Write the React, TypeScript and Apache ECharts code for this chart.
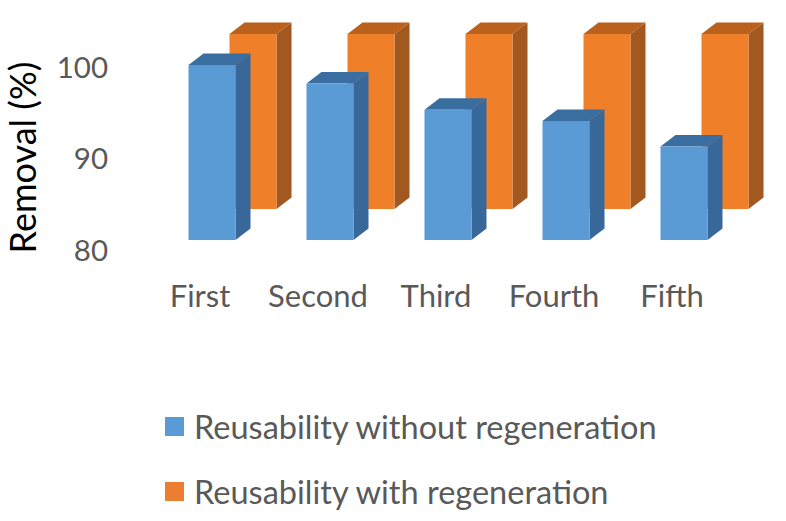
import React, { useEffect, useRef } from "react";
import * as echarts from "echarts";

const categories = ["First", "Second", "Third", "Fourth", "Fifth"];
const withoutRegeneration = [100, 97.9, 94.9, 93.6, 90.7];
const withRegeneration = [100, 100, 100, 100, 100];
const seriesNames = ["Reusability without regeneration", "Reusability with regeneration"];
const yMin = 80;
const yMax = 100;
const yStep = 10;

const FONT = "Lato, 'Open Sans', sans-serif";

function bar3d(front: string, side: string, top: string, shiftX: number, shiftY: number) {
  return (params: any, api: any) => {
    const idx = api.value(0);
    const val = api.value(1);
    const base = api.coord([idx, yMin]);
    const head = api.coord([idx, val]);
    const w = 47;
    const dx = 15;
    const dy = 11.5;
    const x0 = base[0] - w / 2 + shiftX;
    const x1 = x0 + w;
    const yb = base[1] + shiftY;
    const yt = head[1] + shiftY;
    return {
      type: "group",
      children: [
        {
          type: "polygon",
          shape: { points: [[x1, yb], [x1 + dx, yb - dy], [x1 + dx, yt - dy], [x1, yt]] },
          style: { fill: side },
        },
        {
          type: "polygon",
          shape: { points: [[x0, yt], [x1, yt], [x1 + dx, yt - dy], [x0 + dx, yt - dy]] },
          style: { fill: top },
        },
        {
          type: "rect",
          shape: { x: x0, y: yt, width: w, height: yb - yt },
          style: { fill: front },
        },
      ],
    };
  };
}

export default function App() {
  const ref = useRef<HTMLDivElement>(null);
  useEffect(() => {
    const chart = echarts.init(ref.current!, null, { renderer: "svg" });
    chart.setOption({
      animation: false,
      backgroundColor: "#ffffff",
      legend: {
        orient: "vertical",
        left: 160,
        top: 405,
        itemWidth: 19,
        itemHeight: 19,
        itemGap: 32,
        icon: "rect",
        data: seriesNames,
        textStyle: { fontFamily: FONT, fontSize: 32.5, color: "#595959", padding: [0, 0, 0, 5] },
      },
      grid: [
        { left: 153, top: 65, width: 590, height: 175, outerBoundsMode: "none" },
        { left: 141, top: 66, width: 590, height: 183, outerBoundsMode: "none" },
      ],
      xAxis: [
        { type: "category", gridIndex: 0, data: categories, show: false },
        {
          type: "category",
          gridIndex: 1,
          data: categories,
          axisLine: { show: false },
          axisTick: { show: false },
          axisLabel: { interval: 0, fontFamily: FONT, fontSize: 31, color: "#595959", margin: 30 },
        },
      ],
      yAxis: [
        { type: "value", gridIndex: 0, min: yMin, max: yMax, show: false, splitLine: { show: false } },
        {
          type: "value",
          gridIndex: 1,
          min: yMin,
          max: yMax,
          interval: yStep,
          axisLine: { show: false },
          axisTick: { show: false },
          splitLine: { show: false },
          axisLabel: { fontFamily: FONT, fontSize: 29.5, color: "#595959", margin: 33 },
          name: "Removal (%)",
          nameLocation: "middle",
          nameGap: 101,
          nameTextStyle: { fontFamily: FONT, fontSize: 36, color: "#000000" },
        },
      ],
      series: [
        {
          name: seriesNames[1],
          type: "custom",
          xAxisIndex: 0,
          yAxisIndex: 0,
          itemStyle: { color: "#ED7D31" },
          encode: { x: 0, y: 1 },
          data: withRegeneration.map((v, i) => [i, v]),
          renderItem: bar3d("#F07F2A", "#A3581F", "#B9611D", 41, -31),
        },
        {
          name: seriesNames[0],
          type: "custom",
          xAxisIndex: 0,
          yAxisIndex: 0,
          itemStyle: { color: "#5B9BD5" },
          encode: { x: 0, y: 1 },
          data: withoutRegeneration.map((v, i) => [i, v]),
          renderItem: bar3d("#5B9BD5", "#38689A", "#3B6EA0", 0, 0),
        },
      ],
    });
    return () => chart.dispose();
  }, []);
  return <div ref={ref} style={{ position: "absolute", left: 0, top: 0, width: 786, height: 521 }} />;
}
